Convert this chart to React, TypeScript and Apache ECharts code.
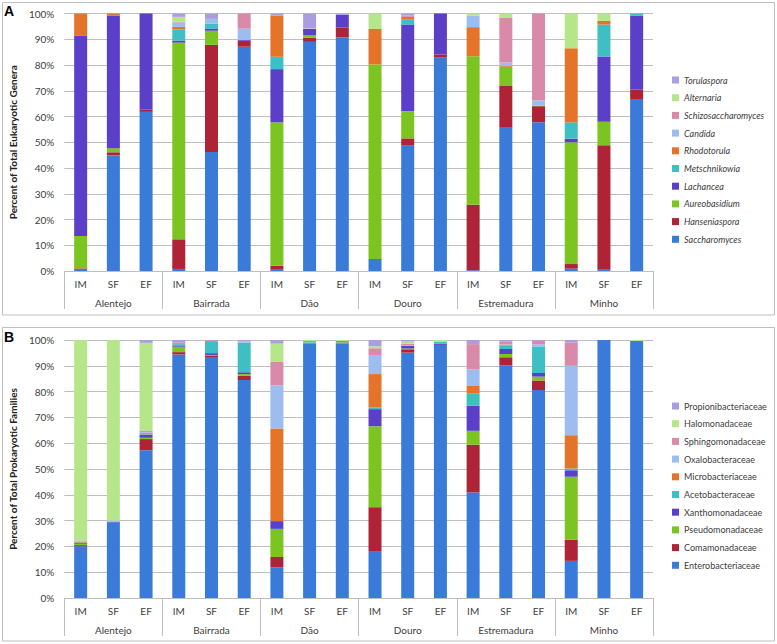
import React, { useEffect, useRef } from "react";
import * as echarts from "echarts";

const regions = ["Alentejo", "Bairrada", "Dão", "Douro", "Estremadura", "Minho"];
const stages = ["IM", "SF", "EF"];
const yTicks = [0, 10, 20, 30, 40, 50, 60, 70, 80, 90, 100];

const eukNames = [
  "Saccharomyces", "Hanseniaspora", "Aureobasidium", "Lachancea", "Metschnikowia",
  "Rhodotorula", "Candida", "Schizosaccharomyces", "Alternaria", "Torulaspora",
];
const prokNames = [
  "Enterobacteriaceae", "Comamonadaceae", "Pseudomonadaceae", "Xanthomonadaceae", "Acetobacteraceae",
  "Microbacteriaceae", "Oxalobacteraceae", "Sphingomonadaceae", "Halomonadaceae", "Propionibacteriaceae",
];
const colors = [
  "#3a7ad8", "#ae2335", "#7cc520", "#5b3fc8", "#3fbfc4",
  "#e4742a", "#9dbdf0", "#d98aa8", "#b5e68a", "#ab9ee0",
];

// Panel A (eukaryotic genera), 18 bars: region x stage
const saccharomyces = [0.5, 44.9, 61.8, 0.8, 46.2, 87.1, 0.5, 89.0, 90.7, 4.7, 48.8, 82.9, 0.3, 55.9, 57.8, 0.9, 0.5, 66.8];
const hanseniaspora = [0.5, 1.2, 0.8, 11.5, 41.6, 2.3, 1.6, 1.6, 3.9, 0, 2.7, 1.2, 25.4, 15.9, 6.2, 1.8, 48.3, 3.7];
const aureobasidium = [12.6, 1.6, 0, 76.4, 5.5, 0, 55.6, 0.9, 0, 75.5, 10.6, 0, 57.7, 7.5, 0.3, 47.3, 9.2, 0];
const lachancea = [77.7, 51.4, 37.4, 0.8, 0.7, 0.3, 20.7, 2.6, 4.9, 0, 33.6, 15.9, 0, 0, 0, 1.4, 25.3, 28.6];
const metschnikowia = [0, 0, 0, 4.3, 2.1, 0, 4.8, 0, 0, 0, 2.1, 0, 0, 0, 0, 6.3, 12.4, 0.9];
const rhodotorula = [8.7, 0.9, 0, 1.0, 0, 0, 15.9, 0, 0, 13.8, 0.9, 0, 11.3, 0.3, 0, 28.8, 1.5, 0];
const candida = [0, 0, 0, 1.7, 1.8, 4.4, 0, 0, 0, 0, 0, 0, 4.4, 1.4, 2.0, 0, 0, 0];
const schizosaccharomyces = [0, 0, 0, 0.3, 0, 5.9, 0, 0, 0, 0, 0.5, 0, 0, 17.3, 33.7, 0, 0, 0];
const alternaria = [0, 0, 0, 1.9, 0, 0, 0, 0.2, 0, 6.0, 0, 0, 0.9, 1.7, 0, 13.5, 2.8, 0];
const torulaspora = [0, 0, 0, 1.3, 2.1, 0, 0.9, 5.7, 0.5, 0, 0.8, 0, 0, 0, 0, 0, 0, 0];

// Panel B (prokaryotic families)
const enterobacteriaceae = [20.1, 29.2, 57.3, 94.4, 93.4, 84.5, 11.9, 98.7, 98.7, 18.2, 95.1, 98.1, 40.9, 90.2, 80.6, 14.4, 100, 99.6];
const comamonadaceae = [0.4, 0, 4.3, 0.9, 0.4, 1.7, 4.0, 0, 0, 17.0, 1.3, 0, 18.5, 3.1, 3.7, 8.2, 0, 0];
const pseudomonadaceae = [0.5, 0, 0.5, 2.1, 0.4, 0.6, 10.9, 0.3, 0, 31.4, 0.3, 0, 5.4, 1.3, 1.5, 24.4, 0, 0];
const xanthomonadaceae = [0.3, 0.4, 1.2, 0.5, 0.7, 0.7, 3.0, 0, 0, 6.6, 1.0, 0.4, 9.7, 1.9, 1.4, 2.5, 0, 0];
const acetobacteraceae = [0.2, 0, 0.2, 0.5, 4.4, 11.5, 0, 0.6, 0.4, 0.7, 0, 0.9, 4.7, 1.2, 10.3, 0.7, 0, 0];
const microbacteriaceae = [0.2, 0, 0.4, 0, 0.3, 0, 35.9, 0, 0.5, 12.9, 0, 0, 3.2, 0.3, 0, 12.9, 0, 0];
const oxalobacteraceae = [0.3, 0.4, 0.3, 0, 0, 0.4, 16.7, 0, 0, 7.4, 0.3, 0, 6.2, 0.3, 0.8, 26.9, 0, 0];
const sphingomonadaceae = [0.3, 0, 0.5, 0.7, 0.2, 0.3, 9.1, 0, 0, 2.6, 0.5, 0, 9.8, 1.0, 1.4, 9.0, 0, 0];
const halomonadaceae = [77.7, 70.0, 34.2, 0, 0, 0, 7.1, 0.4, 0.4, 0.8, 0.9, 0.6, 0, 0, 0, 0, 0, 0.4];
const propionibacteriaceae = [0, 0, 1.1, 0.9, 0.2, 0.3, 1.4, 0, 0, 2.4, 0.6, 0, 1.6, 0.7, 0.3, 1.0, 0, 0];

const eukData = [saccharomyces, hanseniaspora, aureobasidium, lachancea, metschnikowia, rhodotorula, candida, schizosaccharomyces, alternaria, torulaspora];
const prokData = [enterobacteriaceae, comamonadaceae, pseudomonadaceae, xanthomonadaceae, acetobacteraceae, microbacteriaceae, oxalobacteraceae, sphingomonadaceae, halomonadaceae, propionibacteriaceae];

const FONT = "Lato, 'Liberation Sans', sans-serif";
const TXT = "#404040";
const LINE = "#bfbfbf";

export default function App() {
  const ref = useRef<HTMLDivElement>(null);
  useEffect(() => {
    if (!ref.current) return;
    const chart = echarts.init(ref.current, undefined, { renderer: "svg" });
    const cats = regions.flatMap((r) => stages.map((s) => r + "|" + s));
    const grids = [
      { left: 62, top: 13.5, width: 591, height: 257.5 },
      { left: 62, top: 340, width: 591, height: 258 },
    ];
    const xAxes: any[] = [];
    const yAxes: any[] = [];
    const yNames = ["Percent of Total Eukaryotic Genera", "Percent of Total Prokaryotic Families"];
    [0, 1].forEach((g) => {
      xAxes.push({
        type: "category", gridIndex: g, data: cats, position: "bottom",
        axisLine: { onZero: false, lineStyle: { color: LINE } },
        axisTick: { interval: 0, length: 21, lineStyle: { color: LINE } },
        axisLabel: { interval: 0, margin: 8, color: TXT, fontSize: 10, fontFamily: FONT, formatter: (v: string) => v.split("|")[1] },
      });
      xAxes.push({
        type: "category", gridIndex: g, data: regions, position: "bottom",
        axisLine: { show: false, onZero: false },
        axisTick: { show: true, interval: 0, length: 38, lineStyle: { color: LINE } },
        axisLabel: { interval: 0, margin: 27, color: TXT, fontSize: 10, fontFamily: FONT },
      });
      yAxes.push({
        type: "value", gridIndex: g, min: yTicks[0], max: yTicks[yTicks.length - 1], interval: 10,
        axisLine: { show: false }, axisTick: { show: false },
        splitLine: { lineStyle: { color: LINE } },
        axisLabel: { formatter: "{value}%", margin: 10, color: TXT, fontSize: 10, fontFamily: FONT },
        name: yNames[g], nameLocation: "middle", nameGap: 32,
        nameTextStyle: { fontWeight: "bold", fontSize: 10, color: "#222", fontFamily: FONT },
      });
    });
    const series: any[] = [];
    eukNames.forEach((n, i) => series.push({
      type: "bar", name: n, stack: "A", xAxisIndex: 0, yAxisIndex: 0, barWidth: 13,
      data: eukData[i], itemStyle: { color: colors[i] },
    }));
    prokNames.forEach((n, i) => series.push({
      type: "bar", name: n, stack: "B", xAxisIndex: 2, yAxisIndex: 1, barWidth: 13,
      data: prokData[i], itemStyle: { color: colors[i] },
    }));
    const legendBase = {
      orient: "vertical", left: 667, itemWidth: 7, itemHeight: 7, itemGap: 5.7,
      icon: "rect", selectedMode: false,
    };
    chart.setOption({
      animation: false,
      backgroundColor: "#ffffff",
      grid: grids,
      xAxis: xAxes,
      yAxis: yAxes,
      series,
      legend: [
        { ...legendBase, top: 69, data: [...eukNames].reverse(), textStyle: { fontSize: 9, fontStyle: "italic", color: TXT, fontFamily: FONT, lineHeight: 12 } },
        { ...legendBase, top: 395, data: [...prokNames].reverse(), textStyle: { fontSize: 9, color: TXT, fontFamily: FONT, lineHeight: 12 } },
      ],
      graphic: [
        { type: "rect", shape: { x: 2.5, y: 2.5, width: 772, height: 312.5 }, style: { fill: "none", stroke: LINE, lineWidth: 1 }, silent: true },
        { type: "rect", shape: { x: 2.5, y: 327.5, width: 772, height: 313.5 }, style: { fill: "none", stroke: LINE, lineWidth: 1 }, silent: true },
        { type: "text", left: 4, top: 4, style: { text: "A", font: "bold 14px 'Liberation Sans', Arial, sans-serif", fill: "#000" } },
        { type: "text", left: 4, top: 330, style: { text: "B", font: "bold 14px 'Liberation Sans', Arial, sans-serif", fill: "#000" } },
      ],
    });
    return () => chart.dispose();
  }, []);
  return <div ref={ref} style={{ position: "absolute", left: 0, top: 0, width: 777, height: 644 }} />;
}
